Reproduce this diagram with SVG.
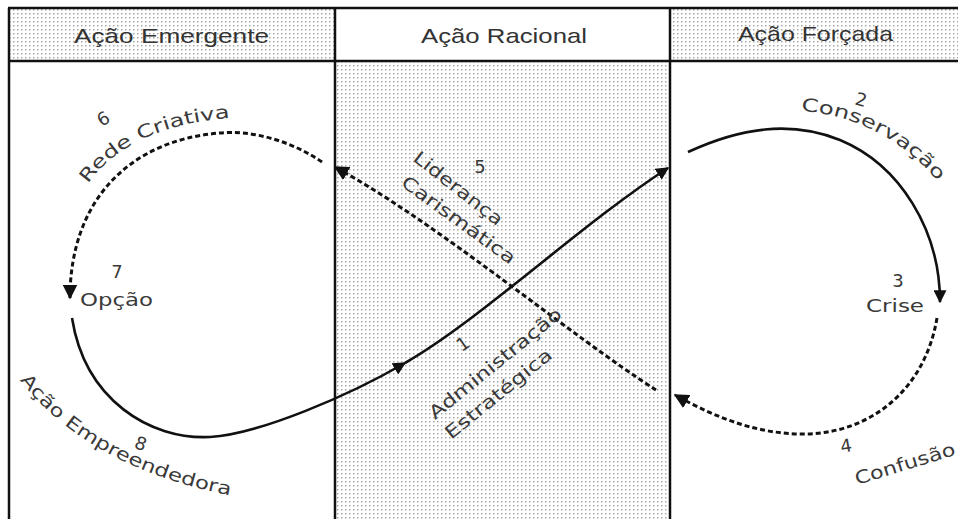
<svg xmlns="http://www.w3.org/2000/svg" width="958" height="519" viewBox="0 0 958 519">
<style>
.lbl{font-family:"DejaVu Sans","Liberation Sans",sans-serif;font-size:18px;fill:#3a3a3a}
.hdr{font-family:"Liberation Sans","DejaVu Sans",sans-serif;font-size:21px;fill:#333}
.solid{fill:none;stroke:#111;stroke-width:2.6}
.dash{fill:none;stroke:#111;stroke-width:3;stroke-dasharray:5 3}
.frame{stroke:#111;stroke-width:2.5;fill:none}
</style>
<defs>
<pattern id="dots" width="4" height="4" patternUnits="userSpaceOnUse">
<rect width="4" height="4" fill="#fff"/>
<rect x="1" y="1" width="1.5" height="1.5" fill="#a8a8a8"/>
</pattern>
<marker id="arr" viewBox="0 0 10 10" refX="9" refY="5" markerWidth="5" markerHeight="5" markerUnits="strokeWidth" orient="auto">
<path d="M0,0 L10,5 L0,10 z" fill="#111"/>
</marker>
<path id="pRede" d="M88,184 C117,142 172,120 245,117"/>
<path id="pCons" d="M801,111 C851,114 905,138 943,188"/>
<path id="pEmp" d="M20,380 C60,432 130,478 240,497"/>
</defs>
<rect width="958" height="519" fill="#fff"/>
<g id="background">
<rect x="9" y="8" width="326" height="53" fill="url(#dots)"/>
<rect x="670" y="8" width="288" height="53" fill="url(#dots)"/>
<rect x="335" y="61" width="335" height="458" fill="url(#dots)"/>
<line class="frame" x1="8" y1="8" x2="958" y2="8"/>
<line class="frame" x1="8" y1="61" x2="958" y2="61"/>
<line class="frame" x1="9" y1="8" x2="9" y2="519"/>
<line class="frame" x1="335" y1="8" x2="335" y2="519"/>
<line class="frame" x1="670" y1="8" x2="670" y2="519"/>
</g>
<g id="headers">
<text class="hdr" x="74" y="43" textLength="195" lengthAdjust="spacingAndGlyphs">Ação Emergente</text>
<text class="hdr" x="421" y="43" textLength="166" lengthAdjust="spacingAndGlyphs">Ação Racional</text>
<text class="hdr" x="738" y="41" textLength="155" lengthAdjust="spacingAndGlyphs">Ação Forçada</text>
</g>
<g id="connectors">
<path class="solid" d="M72,318 C85,400 150,440 210,437 C260,434 350,395 405,363" marker-end="url(#arr)"/>
<path class="solid" d="M405,363 C480,320 580,225 668,168" marker-end="url(#arr)"/>
<path class="solid" d="M688,152 C740,128 790,120 840,140 C900,165 940,230 940,302" marker-end="url(#arr)"/>
<path class="dash" d="M937,318 C925,390 870,434 803,434 C760,434 720,420 675,395" marker-end="url(#arr)"/>
<path class="dash" d="M656,390 C570,335 440,225 335,167" marker-end="url(#arr)"/>
<path class="dash" d="M322,162 C290,140 250,130 220,133 C130,140 70,200 70,298" marker-end="url(#arr)"/>
</g>
<g id="node1">
<text class="lbl" x="463" y="350" text-anchor="middle" transform="rotate(-35 463 344)">1</text>
<text class="lbl" x="435" y="420" transform="rotate(-39 435 420)" textLength="165" lengthAdjust="spacingAndGlyphs">Administração</text>
<text class="lbl" x="451" y="440" transform="rotate(-39 451 440)" textLength="132" lengthAdjust="spacingAndGlyphs">Estratégica</text>
</g>
<g id="node2">
<text class="lbl" x="861" y="106" text-anchor="middle" transform="rotate(15 861 100)">2</text>
<text class="lbl"><textPath href="#pCons" textLength="158" lengthAdjust="spacingAndGlyphs">Conservação</textPath></text>
</g>
<g id="node3">
<text class="lbl" x="898" y="287" text-anchor="middle">3</text>
<text class="lbl" x="866" y="312" textLength="58" lengthAdjust="spacingAndGlyphs">Crise</text>
</g>
<g id="node4">
<text class="lbl" x="846" y="452" text-anchor="middle" transform="rotate(-10 846 446)">4</text>
<text class="lbl" x="857" y="485" transform="rotate(-17 857 485)" textLength="104" lengthAdjust="spacingAndGlyphs">Confusão</text>
</g>
<g id="node5">
<text class="lbl" x="480" y="173" text-anchor="middle">5</text>
<text class="lbl" x="412" y="160" transform="rotate(38 412 160)" textLength="108" lengthAdjust="spacingAndGlyphs">Liderança</text>
<text class="lbl" x="400" y="185" transform="rotate(36 400 185)" textLength="136" lengthAdjust="spacingAndGlyphs">Carismática</text>
</g>
<g id="node6">
<text class="lbl" x="103" y="125" text-anchor="middle" transform="rotate(-30 103 118)">6</text>
<text class="lbl"><textPath href="#pRede" textLength="162" lengthAdjust="spacingAndGlyphs">Rede Criativa</textPath></text>
</g>
<g id="node7">
<text class="lbl" x="117" y="278" text-anchor="middle">7</text>
<text class="lbl" x="80" y="306" textLength="73" lengthAdjust="spacingAndGlyphs">Opção</text>
</g>
<g id="node8">
<text class="lbl" x="141" y="450" text-anchor="middle" transform="rotate(20 141 443)">8</text>
<text class="lbl"><textPath href="#pEmp" textLength="245" lengthAdjust="spacingAndGlyphs">Ação Empreendedora</textPath></text>
</g>
</svg>
